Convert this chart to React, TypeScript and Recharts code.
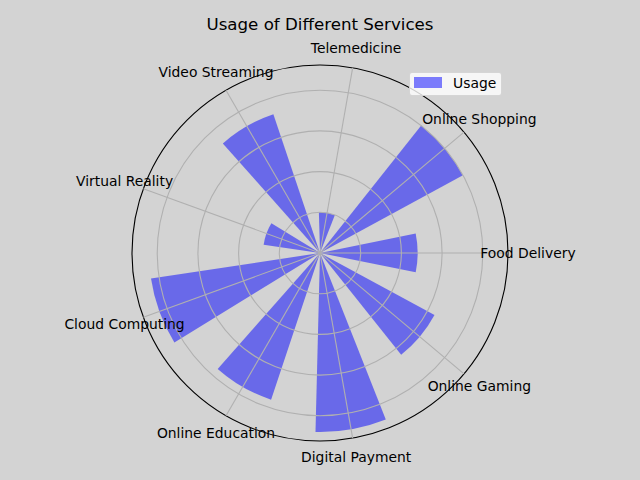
import React from 'react';
import { RadialBarChart, RadialBar, PolarAngleAxis, PolarRadiusAxis, Legend } from 'recharts';

const services = [
  'Food Delivery',
  'Online Shopping',
  'Telemedicine',
  'Video Streaming',
  'Virtual Reality',
  'Cloud Computing',
  'Online Education',
  'Digital Payment',
  'Online Gaming',
];
const usage = [48, 80, 20, 72, 28, 84, 76, 88, 64];
const radiusTicks = [0, 20, 40, 60, 80];
const radiusMax = 92.4;

const data = services.map((name, i) => ({ name, usage: usage[i] }));

const FONT = '"DejaVu Sans", Verdana, sans-serif';
const GRID = '#b0b0b0';
// Recharts places centric angle-axis ticks on the band edge; bars sit half a band further.
const HALF_BAND = 360 / services.length / 2;
const RAD = Math.PI / 180;

const AngleTick = (props: any) => {
  const { cx, cy, radius, payload } = props;
  const a = (payload.coordinate + HALF_BAND) * RAD;
  const lx = cx + (radius + 20) * Math.cos(-a);
  const ly = cy + (radius + 20) * Math.sin(-a);
  const sx = cx + radius * Math.cos(-a);
  const sy = cy + radius * Math.sin(-a);
  return (
    <g>
      <line x1={cx} y1={cy} x2={sx} y2={sy} stroke={GRID} strokeWidth={1.1} />
      <text x={lx} y={ly - 0.5} textAnchor="middle" dominantBaseline="central" fontSize={13.89} fontFamily={FONT} fill="#000">
        {payload.value}
      </text>
    </g>
  );
};

const RadiusTick = (props: any) => {
  const { cx, cy, payload } = props;
  if (!payload.coordinate) return <g />;
  return <circle cx={cx} cy={cy} r={payload.coordinate} fill="none" stroke={GRID} strokeWidth={1.1} />;
};

const LegendContent = () => (
  <div
    style={{
      width: 93,
      height: 24,
      background: 'rgba(255,255,255,0.8)',
      border: '1px solid rgba(204,204,204,0.8)',
      borderRadius: 3,
      position: 'relative',
      boxSizing: 'border-box',
    }}
  >
    <div
      style={{
        position: 'absolute',
        left: 4,
        top: 4,
        width: 28,
        height: 11,
        background: 'rgba(0,0,255,0.5)',
      }}
    />
    <div
      style={{
        position: 'absolute',
        left: 43,
        top: 0,
        height: 21,
        lineHeight: '21px',
        fontSize: 13.89,
        fontFamily: FONT,
        color: '#000',
      }}
    >
      Usage
    </div>
  </div>
);

export default function App() {
  return (
    <div style={{ position: 'absolute', left: 0, top: 0, width: 640, height: 480, background: '#d3d3d3', overflow: 'hidden' }}>
      <div
        style={{
          position: 'absolute',
          left: 0,
          top: 15,
          width: 640,
          height: 20,
          lineHeight: '20px',
          textAlign: 'center',
          fontSize: 16.67,
          fontFamily: FONT,
          color: '#000',
        }}
      >
        Usage of Different Services
      </div>
      <RadialBarChart
        width={640}
        height={480}
        data={data}
        cx={320}
        cy={253}
        innerRadius={0}
        outerRadius={188}
        startAngle={20}
        endAngle={380}
        layout="centric"
        barCategoryGap="21.4%"
        margin={{ top: 0, right: 0, bottom: 0, left: 0 }}
      >
        <RadialBar dataKey="usage" name="Usage" fill="blue" fillOpacity={0.5} isAnimationActive={false} />
        <PolarRadiusAxis
          type="number"
          domain={[0, radiusMax]}
          ticks={radiusTicks}
          tick={RadiusTick}
          axisLine={false}
          tickLine={false}
        />
        <PolarAngleAxis
          type="category"
          dataKey="name"
          tick={AngleTick}
          tickSize={20}
          tickLine={false}
          axisLineType="circle"
          axisLine={{ stroke: '#000', strokeWidth: 1.1 }}
        />
        <Legend
          layout="horizontal"
          verticalAlign="middle"
          align="center"
          content={<LegendContent />}
          wrapperStyle={{ left: 409, top: 72, width: 93, height: 24 }}
        />
      </RadialBarChart>
    </div>
  );
}
